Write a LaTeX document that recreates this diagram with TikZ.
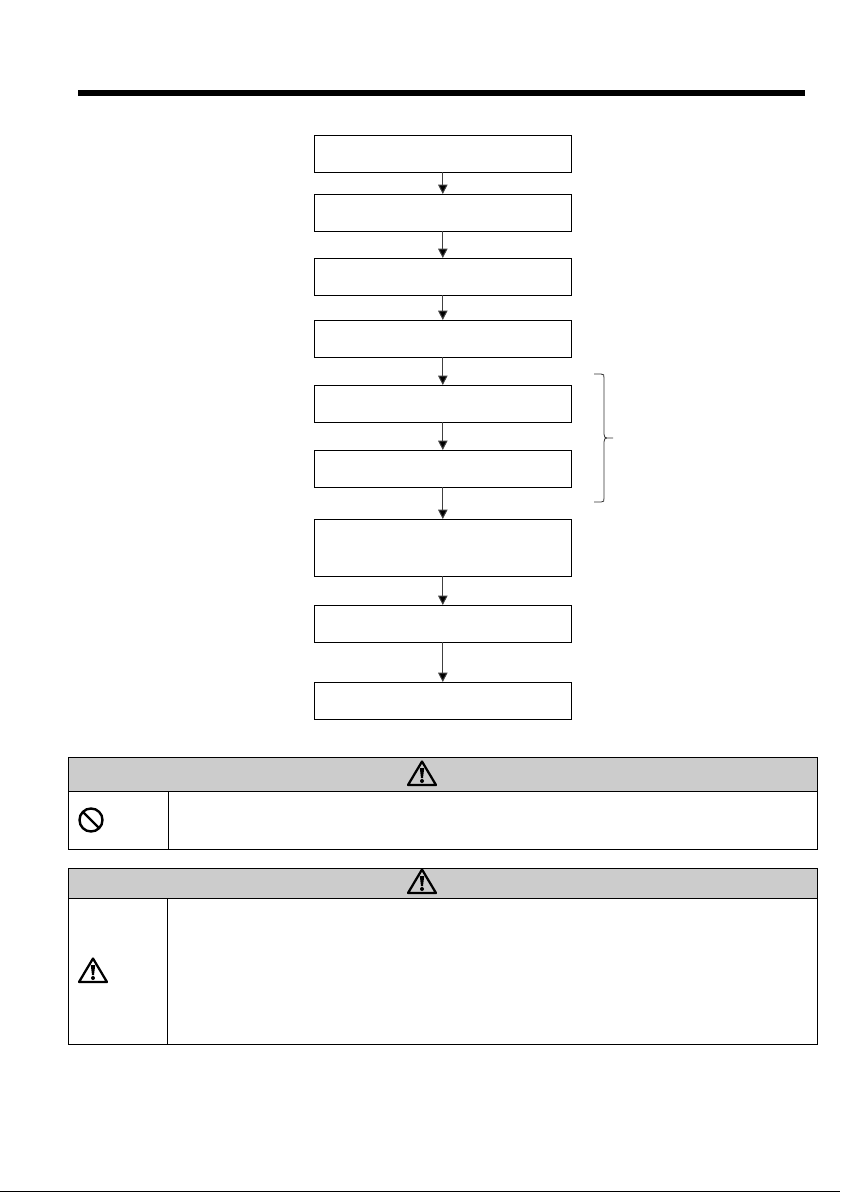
\documentclass[tikz,border=0pt]{standalone}
\usetikzlibrary{arrows.meta}
\definecolor{headgray}{HTML}{CCCCCC}
\tikzset{
	stepbox/.style={draw=black, line width=0.65pt, minimum width=193.2pt, inner sep=0pt, outer sep=0pt},
	stepline/.style={draw=black!75, line width=0.75pt, -{Triangle[width=7pt,length=7pt,fill=black]}},
	frameline/.style={draw=black, line width=0.7pt},
	warnsign/.pic={
			\draw[line width=1.7pt, line join=round] (0,-11.5) -- (14,12) -- (-14,12) -- cycle;
			\fill (-2.2,-5) -- (2.2,-5) -- (1,5) -- (-1,5) -- cycle;
			\fill (0,8) circle[radius=2];
		}
}

\begin{document}
\begin{tikzpicture}[x=0.75pt, y=-0.75pt]
    \useasboundingbox[fill=white] (0,0) rectangle (840,1192);

    % Top rule
    \fill (78,90) rectangle (805,96);

    % Flow boxes: name / centre y / height
    \foreach \name/\cy/\ht in {a/153.5/37, b/212.5/37, c/276.5/37, d/338.5/37, e/403.5/37, f/468.5/37, g/547.5/57, h/623.5/37, i/700.5/37} {
      \node[stepbox, minimum height=\ht*0.75pt] (\name) at (442.8,\cy) {};
    }

    % Arrows between boxes
    \foreach \from/\to in {a/b, b/c, c/d, d/e, e/f, f/g, g/h, h/i} {
      \draw[stepline] (\from) -- (\to);
    }

    % Brace next to boxes e and f
    \draw[draw=black!80, line width=0.6pt] (594,374) -- (601,374) .. controls (604,374) and (604,375) .. (604,378)
      -- (604,434) .. controls (604,437) and (605,438) .. (607,438) -- (613,438)
      (607,438) .. controls (605,438) and (604,439) .. (604,442)
      -- (604,498) .. controls (604,501) and (604,502) .. (601,502) -- (594,502);

    % Upper table
    \fill[headgray] (68,757) rectangle (817,791);
    \draw[frameline] (68,757) rectangle (817,849);
    \draw[frameline] (68,791) -- (817,791);
    \draw[frameline] (168,791) -- (168,849);
    \pic at (422,773) {warnsign};
    \draw[line width=1.8pt] (91,820) circle[radius=11.5];
    \draw[line width=1.8pt] (83,812) -- (99,828);

    % Lower table
    \fill[headgray] (68,868) rectangle (817,898);
    \draw[frameline] (68,868) rectangle (817,1044);
    \draw[frameline] (68,898) -- (817,898);
    \draw[frameline] (167,898) -- (167,1044);
    \pic at (422,881) {warnsign};
    \pic at (93,970) {warnsign};

    % Scan line along the bottom edge
    \draw[line width=0.75pt] (0,1191.5) -- (840,1191.5);
  \end{tikzpicture}
\end{document}
